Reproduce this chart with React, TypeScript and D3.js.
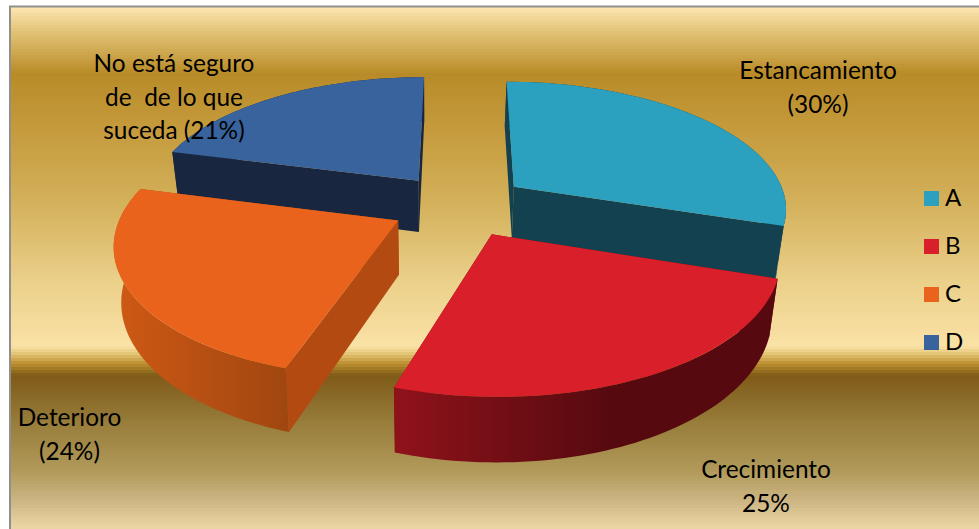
import React from "react";
import * as d3 from "d3";

// Share of answers per category
const categories = ["A", "B", "C", "D"];
const shares = [30, 25, 24, 21];
const topColors = ["#2ca0bf", "#d91f29", "#e9631c", "#38639d"];
const wallColors = ["#14414f", "#7c0e16", "#b24a12", "#18273f"];
const outerWallStops: [string, string][] = [
  ["#14414f", "#14414f"],
  ["#8f121b", "#560a0f"],
  ["#cf5915", "#9f4610"],
  ["#18273f", "#18273f"],
];
const outerWallSpan: [number, number][] = [
  [500, 790],
  [395, 610],
  [115, 290],
  [170, 430],
];

// Data labels, one array of lines per slice
const labelLines = [
  ["Estancamiento", "(30%)"],
  ["Crecimiento", "25%"],
  ["Deterioro", "(24%)"],
  ["No está seguro", "de  de lo que", "suceda (21%)"],
];
const labelAnchors = [
  { x: 818, y: 79 },
  { x: 766, y: 478 },
  { x: 69.5, y: 426 },
  { x: 174, y: 72 },
];
const lineGap = 33.5;

// Vertical backdrop colours
const backdropY = [7, 30, 72, 125, 200, 280, 345, 352, 362, 374, 420, 470, 500, 529];
const backdropColors = [
  "#fde4ae", "#e2c377", "#b98b28", "#c49a3b", "#d3b05a", "#ebd08a", "#fae2a6",
  "#e4c679", "#bd9030", "#7f5a17", "#977c3a", "#b19a5a", "#cdb684", "#efd9a6",
];

const legendY = [198.5, 246.5, 294.5, 342.5];

// Projection of the pie: unit disc on a receding plane
const cx = 459.5;
const cy = 205;
const rx = 278;
const ry = 128.7;
const perspective = 0.159;
const explode = 0.247;
const sliceRadius = 0.985;
const thickness = 53;
const bottomShrink = 0.976;
const vanishX = 430;

type Ground = { wx: number; wy: number };

function project(p: Ground, bottom: boolean): [number, number] {
  const d = 1 + perspective * p.wy;
  const flatX = cx + (rx * p.wx) / d;
  const x = bottom ? vanishX + (flatX - vanishX) * bottomShrink : flatX;
  const y = cy - (ry * p.wy) / d + (bottom ? thickness / d : 0);
  return [x, y];
}

const line = d3.line<[number, number]>().x((d) => d[0]).y((d) => d[1]);

const pieSlices = d3.pie<number>().sort(null).startAngle(0).endAngle(2 * Math.PI)(shares);

function sliceShape(i: number) {
  const s = pieSlices[i];
  const mid = (s.startAngle + s.endAngle) / 2;
  const apex: Ground = { wx: explode * Math.sin(mid), wy: explode * Math.cos(mid) };
  const angles = d3.range(0, 61).map((k) => s.startAngle + ((s.endAngle - s.startAngle) * k) / 60);
  const rim: Ground[] = angles.map((a) => ({
    wx: apex.wx + sliceRadius * Math.sin(a),
    wy: apex.wy + sliceRadius * Math.cos(a),
  }));
  const rimTop = rim.map((p) => project(p, false));
  const rimBottom = rim.map((p) => project(p, true));
  const apexTop = project(apex, false);
  const apexBottom = project(apex, true);
  return {
    top: line([apexTop, ...rimTop]) + "Z",
    outer: line([...rimTop, ...[...rimBottom].reverse()]) + "Z",
    startWall: line([apexTop, rimTop[0], rimBottom[0], apexBottom]) + "Z",
    endWall: line([apexTop, rimTop[60], rimBottom[60], apexBottom]) + "Z",
  };
}

const shapes = categories.map((_, i) => sliceShape(i));
// Far slices first so the near ones overlap them
const paintOrder = [3, 0, 2, 1];

const backdropColor = d3
  .scaleLinear<string>()
  .domain(backdropY)
  .range(backdropColors)
  .interpolate(d3.interpolateRgb);

const bands = d3.range(7, 529, 3);
const labelFont = "Lato, 'Open Sans', sans-serif";

export default function App() {
  return (
    <svg
      width={979}
      height={529}
      style={{ position: "fixed", left: 0, top: 0, display: "block" }}
      fontFamily={labelFont}
    >
      <defs>
        {categories.map((c, i) => (
          <linearGradient
            key={c}
            id={`outer-${c}`}
            gradientUnits="userSpaceOnUse"
            x1={outerWallSpan[i][0]}
            x2={outerWallSpan[i][1]}
            y1={0}
            y2={0}
          >
            <stop offset="0%" stopColor={outerWallStops[i][0]} />
            <stop offset="100%" stopColor={outerWallStops[i][1]} />
          </linearGradient>
        ))}
      </defs>
      <rect x={0} y={0} width={979} height={529} fill="#ffffff" />
      {bands.map((y) => (
        <rect key={y} x={11} y={y} width={968} height={3.5} fill={backdropColor(y)} />
      ))}
      <path d="M10 529V6.5H979" fill="none" stroke="#8f8f8f" strokeWidth={2} />

      {paintOrder.map((i) => (
        <g key={categories[i]}>
          <path d={shapes[i].startWall} fill={wallColors[i]} />
          <path d={shapes[i].endWall} fill={wallColors[i]} />
          <path d={shapes[i].outer} fill={`url(#outer-${categories[i]})`} />
          <path d={shapes[i].top} fill={topColors[i]} />
        </g>
      ))}

      {labelLines.map((lines, i) => (
        <text key={i} textAnchor="middle" fontSize={24.4} fill="#000" style={{ whiteSpace: "pre" }}>
          {lines.map((t, k) => (
            <tspan key={k} x={labelAnchors[i].x} y={labelAnchors[i].y + k * lineGap}>
              {t}
            </tspan>
          ))}
        </text>
      ))}

      {categories.map((c, i) => (
        <g key={c}>
          <rect x={924} y={legendY[i] - 7.5} width={15} height={15} fill={topColors[i]} />
          <text x={945} y={legendY[i] + 7.5} fontSize={24} fill="#000">
            {c}
          </text>
        </g>
      ))}
    </svg>
  );
}
